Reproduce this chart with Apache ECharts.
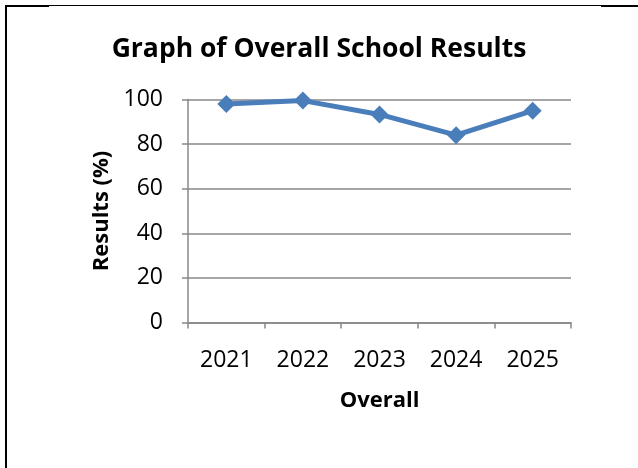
<!DOCTYPE html>
<html lang="en">
<head>
    <meta charset="UTF-8">
    <title>Graph of Overall School Results</title>
    <script src="https://cdn.jsdelivr.net/npm/echarts@6/dist/echarts.min.js"></script>
    <style>
        body { margin: 0; background: #fff; }
        #frame { position: absolute; left: 5px; top: 5px; width: 633px; height: 463px;
                 border-left: 2px solid #000; border-top: 1px solid #000; box-sizing: border-box; }
        .thick { position: absolute; top: 5px; height: 2px; background: #000; }
        #main { position: absolute; left: 0; top: 0; width: 638px; height: 468px; }
    </style>
</head>
<body>
    <div id="frame"></div>
    <div class="thick" style="left:5px;width:44px;"></div>
    <div class="thick" style="left:601px;width:37px;"></div>
    <div id="main"></div>

    <script>
        const years = ["2021", "2022", "2023", "2024", "2025"]
        const results = [98, 99.5, 93.3, 84, 95]
        const yTicks = { min: 0, max: 100, interval: 20 }

        const font = "'Open Sans', sans-serif"
        const grey = "#888888"

        const mychart = echarts.init(document.getElementById("main"))
        const option = {
            animation: false,
            title: {
                text: "Graph of Overall School Results",
                left: "center",
                top: 36,
                padding: 0,
                textStyle: { fontFamily: font, fontSize: 26.5, fontWeight: "bold", color: "#000" }
            },
            grid: { left: 188, right: 67, top: 99.5, bottom: 145.5 },
            xAxis: {
                type: "category",
                data: years,
                boundaryGap: true,
                name: "Overall",
                nameLocation: "middle",
                nameGap: 67,
                nameTextStyle: { fontFamily: font, fontSize: 22, fontWeight: "bold", color: "#000" },
                axisLine: { lineStyle: { color: grey, width: 1.5 } },
                axisTick: { show: true, length: 6, inside: false, lineStyle: { color: grey, width: 1.5 } },
                axisLabel: { margin: 26, fontFamily: font, fontSize: 23, color: "#000" }
            },
            yAxis: {
                type: "value",
                min: yTicks.min,
                max: yTicks.max,
                interval: yTicks.interval,
                name: "Results (%)",
                nameLocation: "middle",
                nameGap: 73,
                nameTextStyle: { fontFamily: font, fontSize: 22, fontWeight: "bold", color: "#000" },
                axisLine: { show: true, lineStyle: { color: grey, width: 1.5 } },
                axisTick: { show: true, length: 6, lineStyle: { color: grey, width: 1.5 } },
                axisLabel: { margin: 25, fontFamily: font, fontSize: 23, color: "#000" },
                splitLine: { show: true, lineStyle: { color: grey, width: 1.5 } }
            },
            series: [{
                type: "line",
                data: results,
                symbol: "diamond",
                symbolSize: 18,
                itemStyle: { color: "#4a7ebb" },
                lineStyle: { color: "#4a7ebb", width: 5 }
            }]
        }
        mychart.setOption(option)
    </script>
</body>
</html>
